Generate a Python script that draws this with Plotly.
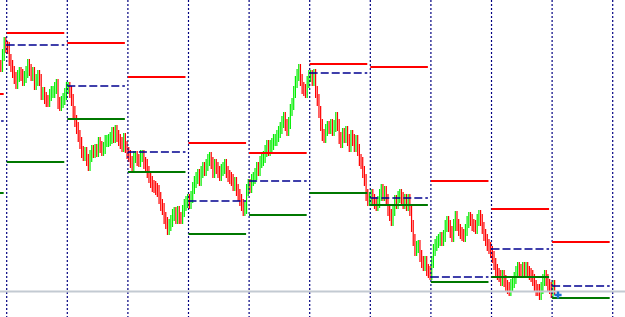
import plotly.graph_objects as go

# ---- data (price levels; chart scale grows downward) ----
bars_per_day = 36
first_day_start = 4  # index of first bar of the first full day

pre_day = [66, 55, 43, 47]
day0 = [48, 60, 66, 72, 78, 83, 76, 73, 75, 80, 77, 72, 65, 70, 75, 73, 84, 80, 76, 80,
        94, 93, 98, 101, 101, 95, 92, 92, 88, 85, 103, 105, 102, 99, 94, 88]
day1 = [88, 92, 100, 112, 121, 128, 136, 143, 152, 155, 153, 160, 165, 156, 151, 152, 150, 151, 143, 147,
        150, 148, 141, 141, 140, 138, 133, 137, 131, 136, 140, 143, 146, 139, 147, 153]
day2 = [156, 162, 167, 157, 157, 160, 161, 156, 156, 163, 165, 172, 177, 182, 186, 187, 189, 191, 198, 205,
        209, 218, 223, 229, 225, 221, 215, 213, 218, 212, 218, 218, 211, 205, 202, 200]
day3 = [203, 197, 188, 182, 178, 175, 180, 172, 168, 170, 165, 160, 158, 163, 172, 165, 168, 172, 175, 170,
        168, 165, 172, 176, 178, 180, 185, 183, 190, 195, 200, 205, 210, 208, 190, 185]
day4 = [187, 180, 178, 174, 168, 170, 162, 160, 157, 151, 146, 150, 146, 144, 140, 140, 136, 132, 128, 122,
        118, 125, 130, 123, 110, 104, 92, 82, 75, 70, 80, 88, 90, 92, 82, 76]
day5 = [76, 80, 75, 92, 100, 112, 125, 135, 137, 130, 127, 128, 125, 130, 126, 118, 125, 138, 142, 134,
        137, 132, 140, 146, 136, 140, 146, 141, 150, 160, 163, 172, 180, 195, 200, 198]
day6 = [195, 200, 203, 205, 202, 195, 190, 195, 192, 200, 210, 215, 220, 210, 201, 203, 197, 195, 198, 203,
        200, 205, 200, 210, 226, 240, 250, 247, 246, 256, 262, 265, 262, 270, 272, 274]
day7 = [262, 250, 245, 242, 240, 238, 240, 236, 226, 222, 226, 232, 236, 225, 217, 225, 230, 233, 235, 236,
        230, 222, 218, 220, 225, 226, 228, 220, 216, 220, 228, 235, 240, 245, 248, 252]
day8 = [257, 264, 270, 274, 276, 280, 276, 281, 286, 288, 290, 285, 282, 278, 272, 268, 270, 272, 268, 270,
        268, 272, 274, 276, 280, 286, 290, 290, 294, 288, 280, 276, 280, 285, 288, 292]
day9 = [286, 289]

# daily levels: previous day (-1) followed by days 0..9
level_high = [94, 33, 43, 77, 143, 153, 64, 67, 181, 209, 242]
level_mid = [121, 45, 86, 152, 201, 181, 73, 198, 277, 249, 286]
level_low = [193, 162, 119, 172, 234, 215, 193, 205, 282, 277, 298]

bid_level = 291.5
arrow_index = [331]
arrow_level = [295]

# ---- build OHLC ----
closes = pre_day + day0 + day1 + day2 + day3 + day4 + day5 + day6 + day7 + day8 + day9
idx = list(range(len(closes)))
wick = 6
opens = [closes[0]] + closes[:-1]
highs = [min(o, c) - wick for o, c in zip(opens, closes)]
lows = [max(o, c) + wick for o, c in zip(opens, closes)]

x_min, x_max = -0.481, 370.8
y_top, y_bottom = 0, 317

fig = go.Figure()

# day separators (dotted verticals)
sep_x, sep_y = [], []
for k in range(11):
    s = first_day_start - 0.5 + bars_per_day * k
    sep_x += [s, s, None]
    sep_y += [y_top, y_bottom, None]
fig.add_trace(go.Scatter(x=sep_x, y=sep_y, mode="lines",
                         line=dict(color="#000080", width=1.2, dash="2px,2px"), hoverinfo="skip"))

# bid line
fig.add_trace(go.Scatter(x=[x_min, x_max], y=[bid_level, bid_level], mode="lines",
                         line=dict(color="#c3cad2", width=2), hoverinfo="skip"))


def segs(levels):
    xs, ys = [], []
    for j, v in enumerate(levels):
        k = j - 1
        start = first_day_start - 0.5 + bars_per_day * k
        end = start + bars_per_day - 1.8
        xs += [start, end, None]
        ys += [v, v, None]
    return xs, ys


hx, hy = segs(level_high)
lx, ly = segs(level_low)
mx, my = segs(level_mid)
fig.add_trace(go.Scatter(x=hx, y=hy, mode="lines", line=dict(color="#ff0000", width=2), hoverinfo="skip"))
fig.add_trace(go.Scatter(x=lx, y=ly, mode="lines", line=dict(color="#007800", width=2), hoverinfo="skip"))
fig.add_trace(go.Scatter(x=mx, y=my, mode="lines",
                         line=dict(color="#000090", width=1.4, dash="8px,3px"), hoverinfo="skip"))

# bars (axis grows downward, so a larger close means the price fell)
fig.add_trace(go.Ohlc(x=idx, open=opens, high=highs, low=lows, close=closes,
                      increasing=dict(line=dict(color="#ff0000", width=1.2)),
                      decreasing=dict(line=dict(color="#00ee00", width=1.2)),
                      tickwidth=0, hoverinfo="skip"))

fig.add_trace(go.Scatter(x=arrow_index, y=arrow_level, mode="markers",
                         marker=dict(symbol="cross", size=6, color="#1f6fd0"), hoverinfo="skip"))

fig.update_layout(
    width=625, height=317,
    margin=dict(l=0, r=0, t=0, b=0),
    paper_bgcolor="white", plot_bgcolor="white",
    showlegend=False,
    xaxis=dict(range=[x_min, x_max], visible=False, rangeslider=dict(visible=False)),
    yaxis=dict(range=[y_bottom, y_top], visible=False),
)

fig.write_html("out.html")
